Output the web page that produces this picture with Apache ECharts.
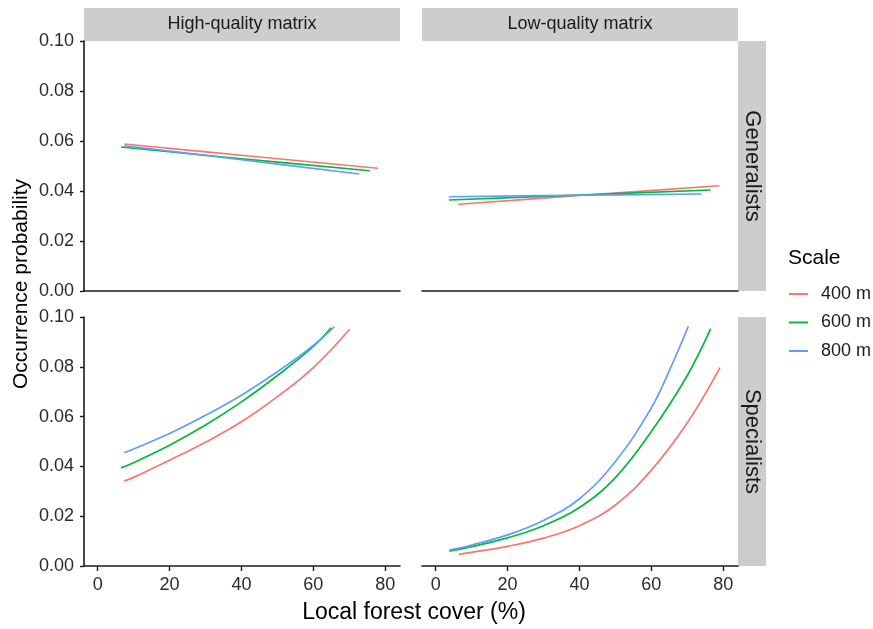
<!DOCTYPE html>
<html>
<head>
<meta charset="utf-8">
<script src="https://cdn.jsdelivr.net/npm/echarts@6/dist/echarts.min.js"></script>
<style>
html,body{margin:0;padding:0;background:#fff;}
#chart{width:873px;height:629px;}
</style>
</head>
<body>
<div id="chart"></div>
<script>
// ---- data ----
const scales = ['400 m', '600 m', '800 m'];
const colors = ['#F8766D', '#00BA38', '#619CFF'];
const colLabels = ['High-quality matrix', 'Low-quality matrix'];
const rowLabels = ['Generalists', 'Specialists'];
const xTicks = [0, 20, 40, 60, 80];
const yTicks = [0, 0.02, 0.04, 0.06, 0.08, 0.10];

// High-quality matrix, Generalists
const highGen400 = [[7.4, 0.0588], [40, 0.0543], [78, 0.0491]];
const highGen600 = [[6.5, 0.0576], [40, 0.0529], [75.7, 0.0481]];
const highGen800 = [[7.4, 0.0581], [40, 0.0525], [72.8, 0.0468]];
// Low-quality matrix, Generalists
const lowGen400 = [[6.3, 0.0347], [40, 0.0382], [78.9, 0.0421]];
const lowGen600 = [[3.7, 0.0364], [40, 0.0384], [76.5, 0.0404]];
const lowGen800 = [[3.7, 0.0377], [40, 0.0383], [74, 0.0388]];
// High-quality matrix, Specialists
const highSpec400 = [[7.4, 0.0341], [10, 0.0356], [20, 0.0425], [30, 0.0497], [40, 0.0579], [50, 0.068], [60, 0.0797], [70.1, 0.0951]];
const highSpec600 = [[6.5, 0.0394], [10, 0.0415], [20, 0.0485], [30, 0.0566], [40, 0.0659], [50, 0.0765], [60, 0.0882], [64.9, 0.0957]];
const highSpec800 = [[7.4, 0.0455], [10, 0.047], [20, 0.0532], [30, 0.0605], [40, 0.0686], [50, 0.078], [60, 0.0886], [65.8, 0.096]];
// Low-quality matrix, Specialists
const lowSpec400 = [[6.5, 0.0047], [10, 0.0055], [20, 0.0079], [30, 0.0112], [40, 0.0162], [50, 0.0245], [60, 0.0385], [70, 0.0575], [79.1, 0.0797]];
const lowSpec600 = [[3.8, 0.006], [10, 0.0078], [20, 0.0113], [30, 0.0162], [40, 0.0235], [50, 0.0355], [60, 0.054], [70, 0.0765], [76.5, 0.0953]];
const lowSpec800 = [[3.8, 0.0064], [10, 0.0084], [20, 0.0125], [30, 0.0183], [40, 0.027], [50, 0.042], [60, 0.0635], [65, 0.0785], [70.3, 0.0963]];

const panels = [
  [highGen400, highGen600, highGen800],
  [lowGen400, lowGen600, lowGen800],
  [highSpec400, highSpec600, highSpec800],
  [lowSpec400, lowSpec600, lowSpec800]
];

// ---- layout ----
const FONT = 'Liberation Sans, Arial, sans-serif';
const colLeft = [84, 422];
const panelW = 316;
const rowTop = [41, 317];
const panelH = [250, 249];
const stripColor = '#CDCDCD';
const axisColor = '#1a1a1a';

const grids = [], xAxes = [], yAxes = [], series = [];
for (let r = 0; r < 2; r++) {
  for (let c = 0; c < 2; c++) {
    const i = r * 2 + c;
    grids.push({left: colLeft[c], top: rowTop[r], width: panelW, height: panelH[r], containLabel: false});
    const bottomRow = r === 1;
    xAxes.push({
      type: 'value', gridIndex: i, min: -3.8, max: 84.1,
      axisLine: {show: true, onZero: false, lineStyle: {color: axisColor, width: 1.6}},
      axisTick: {show: bottomRow, length: 5, lineStyle: {color: axisColor, width: 1.4}, customValues: xTicks},
      axisLabel: {show: bottomRow, customValues: xTicks, margin: 10, fontSize: 18, color: '#2b2b2b', fontFamily: FONT},
      splitLine: {show: false}
    });
    const leftCol = c === 0;
    yAxes.push({
      type: 'value', gridIndex: i, min: yTicks[0], max: yTicks[yTicks.length - 1], interval: 0.02,
      show: leftCol,
      axisLine: {show: true, onZero: false, lineStyle: {color: axisColor, width: 1.6}},
      axisTick: {show: true, length: 4, lineStyle: {color: axisColor, width: 1.4}},
      axisLabel: {margin: 10, fontSize: 18, color: '#2b2b2b', fontFamily: FONT,
        formatter: v => v.toFixed(2)},
      splitLine: {show: false}
    });
    panels[i].forEach((d, k) => {
      series.push({
        name: scales[k], type: 'line', xAxisIndex: i, yAxisIndex: i, data: d,
        smooth: 0.4, showSymbol: false, symbol: 'none',
        lineStyle: {color: colors[k], width: 1.7}, itemStyle: {color: colors[k]},
        silent: true, animation: false
      });
    });
  }
}

const graphics = [];
// top strips
colLabels.forEach((t, c) => {
  graphics.push({type: 'rect', shape: {x: colLeft[c], y: 8, width: panelW, height: 33}, style: {fill: stripColor}, silent: true});
  graphics.push({type: 'text', x: colLeft[c] + panelW / 2, y: 24.5,
    style: {text: t, fill: '#1a1a1a', font: '18px ' + FONT, align: 'center', verticalAlign: 'middle'}, silent: true});
});
// right strips
rowLabels.forEach((t, r) => {
  graphics.push({type: 'rect', shape: {x: 738, y: rowTop[r], width: 28, height: panelH[r]}, style: {fill: stripColor}, silent: true});
  graphics.push({type: 'text', x: 752, y: rowTop[r] + panelH[r] / 2, rotation: -Math.PI / 2,
    style: {text: t, fill: '#1a1a1a', font: '22px ' + FONT, align: 'center', verticalAlign: 'middle'}, silent: true});
});
// axis titles
graphics.push({type: 'text', x: 21, y: 284, rotation: Math.PI / 2,
  style: {text: 'Occurrence probability', fill: '#000', font: '21px ' + FONT, align: 'center', verticalAlign: 'middle'}, silent: true});
graphics.push({type: 'text', x: 414, y: 613,
  style: {text: 'Local forest cover (%)', fill: '#000', font: '23px ' + FONT, align: 'center', verticalAlign: 'middle'}, silent: true});
// legend title
graphics.push({type: 'text', x: 788, y: 258,
  style: {text: 'Scale', fill: '#000', font: '21px ' + FONT, align: 'left', verticalAlign: 'middle'}, silent: true});

const chart = echarts.init(document.getElementById('chart'), null, {renderer: 'canvas'});
chart.setOption({
  animation: false,
  backgroundColor: '#fff',
  grid: grids,
  xAxis: xAxes,
  yAxis: yAxes,
  series: series,
  legend: {
    data: scales, orient: 'vertical', left: 789, top: 285, padding: 0,
    icon: 'rect', itemWidth: 19, itemHeight: 2, itemGap: 10.5,
    selectedMode: false,
    textStyle: {fontSize: 18, color: '#1a1a1a', fontFamily: FONT, padding: [0, 0, 0, 8]}
  },
  graphic: graphics
});
</script>
</body>
</html>
